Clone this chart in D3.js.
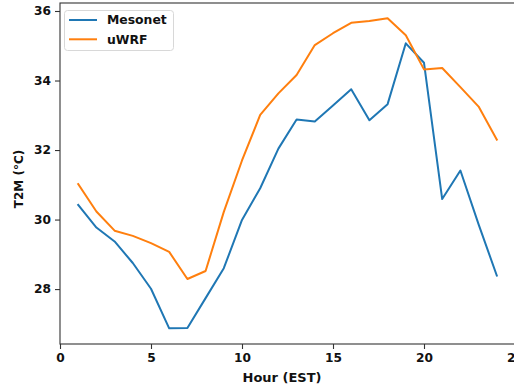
<!DOCTYPE html>
<html>
<head>
<meta charset="utf-8">
<script src="https://cdn.jsdelivr.net/npm/d3@7"></script>
<style>
  html, body { margin: 0; padding: 0; background: #fff; }
  svg { display: block; }
  text { font-family: "DejaVu Sans", sans-serif; font-weight: bold; fill: #111; }
</style>
</head>
<body>
<svg id="chart" width="514" height="387"></svg>
<script>
// ---- data ----
const hours = [1,2,3,4,5,6,7,8,9,10,11,12,13,14,15,16,17,18,19,20,21,22,23,24];
const mesonet = [30.42,29.77,29.37,28.75,28.01,26.87,26.88,27.74,28.60,29.99,30.90,32.04,32.88,32.82,33.28,33.75,32.86,33.32,35.07,34.51,30.59,31.41,29.86,28.39];
const uwrf = [31.02,30.23,29.68,29.53,29.32,29.07,28.29,28.52,30.22,31.70,33.01,33.63,34.16,35.02,35.36,35.66,35.71,35.79,35.30,34.32,34.36,33.81,33.25,32.30];
const seriesNames = ["Mesonet", "uWRF"];
const seriesColors = ["#1f77b4", "#ff7f0e"];
const xTicks = [0,5,10,15,20,25];
const yTicks = [28,30,32,34,36];

// ---- layout ----
const L = 60, R = 515, T = 3, B = 344;
const svg = d3.select("#chart");
const x = d3.scaleLinear().domain([0, 25]).range([L, R]);
const y = d3.scaleLinear().domain([26.42, 36.23]).range([B, T]);

// spines
const spine = svg.append("g").attr("stroke", "#333").attr("stroke-width", 1.1).attr("fill", "none");
spine.append("rect").attr("x", L).attr("y", T).attr("width", R - L).attr("height", B - T);

// axes
const xAxis = svg.append("g").attr("transform", `translate(0,${B})`)
  .call(d3.axisBottom(x).tickValues(xTicks).tickFormat(d3.format("d")).tickSize(5).tickPadding(4));
const yAxis = svg.append("g").attr("transform", `translate(${L},0)`)
  .call(d3.axisLeft(y).tickValues(yTicks).tickFormat(d3.format("d")).tickSize(5).tickPadding(4));
[xAxis, yAxis].forEach(g => {
  g.select(".domain").remove();
  g.selectAll(".tick line").attr("stroke", "#333").attr("stroke-width", 1.1);
  g.selectAll(".tick text").attr("font-size", 12.2).attr("font-family", "DejaVu Sans").attr("font-weight", "bold").attr("fill", "#111");
});

// lines
const line = d3.line().x((d, i) => x(hours[i])).y(d => y(d));
[mesonet, uwrf].forEach((s, k) => {
  svg.append("path").datum(s).attr("d", line)
    .attr("fill", "none").attr("stroke", seriesColors[k]).attr("stroke-width", 2)
    .attr("stroke-linejoin", "round").attr("stroke-linecap", "square");
});

// axis labels
svg.append("text").attr("x", 282).attr("y", 382).attr("text-anchor", "middle")
  .attr("font-size", 13).text("Hour (EST)");
svg.append("text").attr("transform", "translate(23,179) rotate(-90)").attr("text-anchor", "middle")
  .attr("font-size", 12).text("T2M (°C)");

// legend
const lg = svg.append("g");
lg.append("rect").attr("x", 64.5).attr("y", 10.5).attr("width", 109).attr("height", 40).attr("rx", 3)
  .attr("fill", "#fff").attr("fill-opacity", 0.8).attr("stroke", "#d8d8d8").attr("stroke-width", 1);
seriesNames.forEach((n, k) => {
  const yy = 20 + k * 19.3;
  lg.append("line").attr("x1", 69).attr("x2", 97).attr("y1", yy).attr("y2", yy)
    .attr("stroke", seriesColors[k]).attr("stroke-width", 2);
  lg.append("text").attr("x", 107).attr("y", yy).attr("dy", "0.36em").attr("font-size", 12.4).text(n);
});
</script>
</body>
</html>
